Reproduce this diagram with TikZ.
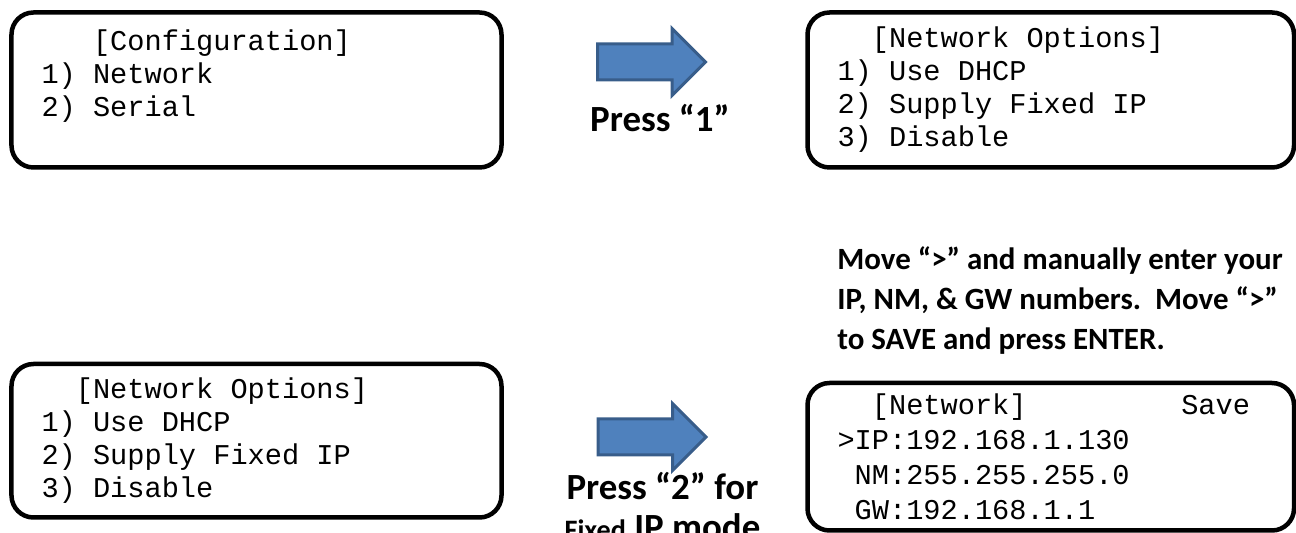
\documentclass[tikz,border=0pt]{standalone}
\usepackage{fontspec}
\setmainfont{Carlito}
\setmonofont{Liberation Mono}
\usetikzlibrary{positioning,shapes.arrows}
\definecolor{ArrowFill}{HTML}{4F81BD}
\definecolor{ArrowEdge}{HTML}{385D8A}

\begin{document}
\begin{tikzpicture}[
    screen/.style={draw,line width=0.09cm,rounded corners=0.44cm,align=left,inner xsep=0.6cm,inner ysep=0pt,
      text width=8.6cm,minimum height=3.1cm,font=\ttfamily\fontsize{16.3}{18.8}\selectfont,
      execute at begin node={\spaceskip=9.78pt\relax}},
    push/.style={single arrow,draw=ArrowEdge,fill=ArrowFill,line width=0.06cm,inner xsep=0pt,inner ysep=0.33cm,
      minimum height=2.16cm,single arrow head extend=0.31cm},
    hint/.style={font=\bfseries\fontsize{21}{22.8}\selectfont,align=center,inner sep=0pt}]
    \useasboundingbox (0,0) rectangle (25.92,10.66);
    \clip (0,0) rectangle (25.92,10.66);
    % the four terminal screens
    \node[screen,anchor=north west] (cfg) at (0.185,10.455) {~~~[Configuration]\\1)~Network\\2)~Serial\\\mbox{}};
    \node[screen,right=6.03cm of cfg,text width=8.53cm] (opts) {~~[Network Options]\\1)~Use DHCP\\2)~Supply Fixed IP\\3)~Disable};
    \node[screen,below=3.84cm of cfg,minimum height=3.07cm] (fixed) {~~[Network Options]\\1)~Use DHCP\\2)~Supply Fixed IP\\3)~Disable};
    \node[screen,below=4.22cm of opts,text width=8.53cm,minimum height=2.95cm,
      font=\ttfamily\fontsize{16.3}{19.9}\selectfont] (net)
      {~~[Network]~~~~~~~~~Save\\>IP:192.168.1.130\\~NM:255.255.255.0\\~GW:192.168.1.1};
    % key presses
    \node[push] (p1) at (12.85,9.42) {};
    \node[hint,anchor=base] (k1) at (13.2,8.02) {Press “1”};
    \node[push] (p2) at (12.86,1.92) {};
    \node[hint,anchor=base] (k2) at (13.25,-0.14) {Press “2” for\\{\fontsize{16}{22.8}\selectfont Fixed} IP mode};
    \node[font=\bfseries\fontsize{17.6}{23}\selectfont,align=left,inner sep=0pt,anchor=base west] (tip) at (16.74,3.66)
      {Move “>” and manually enter your\\IP, NM, \& GW numbers.\ \ Move “>”\\to SAVE and press ENTER.};
\end{tikzpicture}
\end{document}
